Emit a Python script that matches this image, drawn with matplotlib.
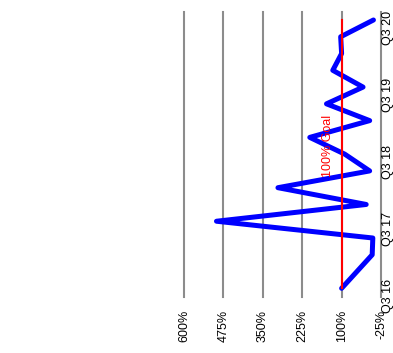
import matplotlib
matplotlib.use("Agg")
import matplotlib.pyplot as plt
from matplotlib.transforms import ScaledTranslation

plt.rcParams['font.family'] = ['Liberation Sans', 'DejaVu Sans']

# Quarterly attainment (%), None where no figure was reported
quarters = ["Q3 16", "Q4 16", "Q1 17", "Q2 17", "Q3 17", "Q4 17",
            "Q1 18", "Q2 18", "Q3 18", "Q4 18", "Q1 19", "Q2 19",
            "Q3 19", "Q4 19", "Q1 20", "Q2 20", "Q3 20"]
attainment = [100, None, 3, 1, 497, 22, 302, 11, 90, 201, 11, 148,
              32, 128, 100, 103, -1]
goal = 100
value_ticks = [-25, 100, 225, 350, 475, 600]
labelled_quarters = ["Q3 16", "Q3 17", "Q3 18", "Q3 19", "Q3 20"]

pos = [i for i, v in enumerate(attainment) if v is not None]
vals = [v for v in attainment if v is not None]

fig = plt.figure(figsize=(3.93, 3.53), dpi=100)
ax = fig.add_axes([0.4682, 0.1595, 0.5013, 0.8076])

# Chart is drawn sideways: value runs right-to-left, time runs upward
ax.plot(vals, pos, color='#0000ff', lw=3.6,
        solid_joinstyle='round', solid_capstyle='round', zorder=3)
ax.plot([goal, goal], [0, len(quarters) - 1], color='#ff0000', lw=1.5, zorder=4)
ax.annotate("100% Goal", xy=(goal, (len(quarters) - 1) / 2 + 0.5),
            xytext=(-5.5, 0), textcoords='offset points',
            rotation=90, ha='right', va='center', color='#ff0000', fontsize=9)

ax.set_xlim(600, -25)
ax.set_ylim(-0.5, len(quarters) - 0.5)

ax.set_xticks(value_ticks)
ax.set_xticklabels([f"{t}%" for t in value_ticks], rotation=90, fontsize=9)
ax.tick_params(axis='x', length=0, pad=9.5)

ax.yaxis.tick_right()
ax.set_yticks([quarters.index(q) for q in labelled_quarters])
ax.set_yticklabels(labelled_quarters, rotation=90, fontsize=9,
                   family=['Liberation Sans Narrow', 'Liberation Sans'])
ax.tick_params(axis='y', length=0, pad=1)
shift = ScaledTranslation(0, 5 / 100, fig.dpi_scale_trans)
for lab in ax.get_yticklabels():
    lab.set_transform(lab.get_transform() + shift)

ax.grid(axis='x', color='#8c8c8c', lw=1.5)
ax.grid(axis='y', visible=False)
ax.set_axisbelow(True)
for gl in ax.get_xgridlines():
    gl.set_clip_on(False)

for s in ax.spines.values():
    s.set_visible(False)

fig.savefig("out.png", dpi=100)
